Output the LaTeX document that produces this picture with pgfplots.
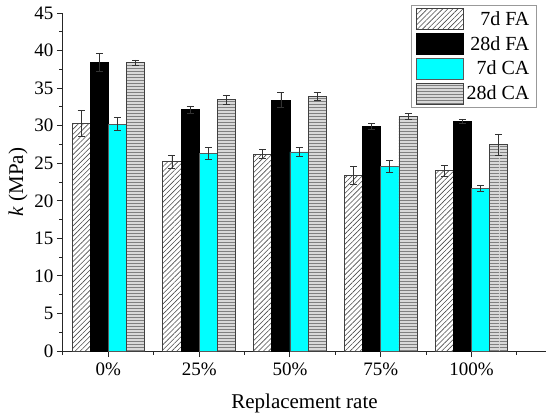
\documentclass[border=0pt]{standalone}
\usepackage{fontspec}
\setmainfont{Liberation Serif}
\usepackage{pgfplots}
\pgfplotsset{compat=1.18}
\usetikzlibrary{patterns,patterns.meta}
\definecolor{mycyan}{RGB}{0,255,255}
\pgfdeclarepatternformonly{hstripes}{\pgfqpoint{0pt}{0pt}}{\pgfqpoint{100pt}{3pt}}{\pgfqpoint{100pt}{3pt}}{%
  \pgfpathrectangle{\pgfqpoint{0pt}{0pt}}{\pgfqpoint{100pt}{1.2pt}}\pgfusepath{fill}}
\pgfplotstableread{
x y e
0 30.3 1.7
1 25.2 0.9
2 26.2 0.6
3 23.4 1.2
4 24.0 0.7
}\faseven
\pgfplotstableread{
x y e
0 38.4 1.2
1 32.1 0.5
2 33.4 1.0
3 29.9 0.4
4 30.6 0.3
}\fatwentyeight
\pgfplotstableread{
x y e
0 30.2 0.85
1 26.3 0.8
2 26.5 0.55
3 24.6 0.75
4 21.6 0.4
}\caseven
\pgfplotstableread{
x y e
0 38.4 0.35
1 33.5 0.6
2 33.9 0.5
3 31.2 0.4
4 27.5 1.4
}\catwentyeight
\begin{document}
\begin{tikzpicture}[x=1pt,y=1pt]
\useasboundingbox (0,0) rectangle (550,416);
\begin{axis}[
  at={(63pt,65pt)}, anchor=south west,
  scale only axis, width=483pt, height=338pt,
  xmin=-0.5, xmax=4.82, ymin=0, ymax=45,
  axis x line*=bottom, axis y line*=left,
  axis line style={-, line width=1pt, black!85},
  tick style={line width=1pt, black!85},
  tick align=outside,
  major tick length=6pt, minor tick length=3.5pt,
  xtick={0,1,2,3,4},
  xticklabels={0\%,25\%,50\%,75\%,100\%},
  minor xtick={-0.5,0.5,1.5,2.5,3.5,4.5},
  ytick={0,5,...,45},
  minor ytick={2.5,7.5,...,42.5},
  tick label style={font=\fontsize{19}{22}\selectfont},
  xticklabel style={yshift=-2pt},
  /pgf/number format/assume math mode=true,
  xlabel={Replacement rate},
  ylabel={\textit{k} (MPa)},
  label style={font=\fontsize{21}{24}\selectfont},
  xlabel style={yshift=-12pt},
  ybar=0pt, bar width=0.2,
  legend image code/.code={\draw[#1,line width=0.8pt] (0pt,-10.5pt) rectangle (47pt,10.5pt);},
  legend cell align=right,
  legend style={at={(0.981,1.024)}, anchor=north east, draw=black!40, line width=0.8pt,
    font=\fontsize{20}{22}\selectfont, inner xsep=4pt, inner ysep=3pt, row sep=3pt,
    nodes={inner ysep=0.5pt, inner xsep=3pt}},
  error bars/y dir=both, error bars/y explicit,
  error bars/error bar style={line width=0.7pt, black!80},
  error bars/error mark options={rotate=90, mark size=3.5pt, line width=0.7pt, black!80},
]
\addplot[draw=black!75, line width=0.8pt, fill=white, postaction={pattern={Lines[angle=45,distance=3.6pt,line width=0.6pt]}, pattern color=black!70}]
  table[x=x,y=y,y error=e]{\faseven};
\addlegendentry{7d FA}
\addplot[draw=black, line width=0.8pt, fill=black]
  table[x=x,y=y,y error=e]{\fatwentyeight};
\addlegendentry{28d FA}
\addplot[draw=black!65, line width=0.8pt, fill=mycyan]
  table[x=x,y=y,y error=e]{\caseven};
\addlegendentry{7d CA}
\addplot[draw=black!75, line width=0.8pt, fill=black!15, postaction={pattern=hstripes, pattern color=black!50}]
  table[x=x,y=y,y error=e]{\catwentyeight};
\addlegendentry{28d CA}
\end{axis}
\end{tikzpicture}
\end{document}
